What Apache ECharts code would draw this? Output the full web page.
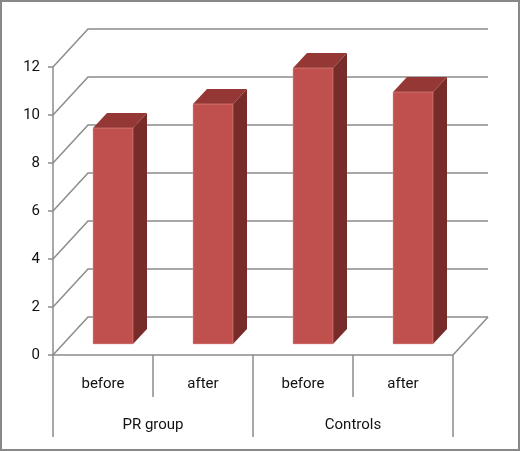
<!DOCTYPE html>
<html>
<head>
<meta charset="utf-8">
<script src="https://cdn.jsdelivr.net/npm/echarts@6/dist/echarts.min.js"></script>
<style>
  html, body { margin: 0; padding: 0; background: #fff; }
  #chart { width: 521px; height: 452px; }
</style>
</head>
<body>
<div id="chart"></div>
<script>
/* ---------- data ---------- */
const SUB_LABELS = ["before", "after", "before", "after"];
const GROUP_LABELS = ["PR group", "Controls"];
const VALUES = [9, 10, 11.5, 10.5];
const Y_TICKS = [0, 2, 4, 6, 8, 10, 12];

/* ---------- look ---------- */
const FONT = "'Roboto', sans-serif";
const GRID_COLOR = "#8c8c8c";
const WALL = { dx: 35, dy: 38 };      // front -> back wall offset
const BAR = { shift: 10, lift: 11, w: 0.4, dx: 14, dy: 15 };
const COL = { front: "#c0504d", top: "#953735", side: "#772c2a" };

const chart = echarts.init(document.getElementById("chart"), null, { renderer: "canvas" });

// back wall + floor grid lines, one element per y tick
function renderWall(params, api) {
  const cs = params.coordSys;
  const y = api.coord([0, api.value(1)])[1];
  const x0 = cs.x, x1 = cs.x + cs.width;
  const children = [{
    type: "polyline",
    shape: { points: [[x0, y], [x0 + WALL.dx, y - WALL.dy], [x1 + WALL.dx, y - WALL.dy]] },
    style: { stroke: GRID_COLOR, lineWidth: 1.5, fill: null },
  }];
  if (api.value(1) === 0) {
    children.push({
      type: "line",
      shape: { x1: x1, y1: y, x2: x1 + WALL.dx, y2: y - WALL.dy },
      style: { stroke: GRID_COLOR, lineWidth: 1.5 },
    });
  }
  return { type: "group", children };
}

// pseudo 3D bars
function renderBar(params, api) {
  const idx = api.value(0);
  const top = api.coord([idx, api.value(1)]);
  const base = api.coord([idx, 0]);
  const band = api.size([1, 0])[0];
  const w = band * BAR.w;
  const xl = top[0] - w / 2 + BAR.shift, xr = xl + w;
  const yt = top[1] - BAR.lift, yb = base[1] - BAR.lift;
  const { dx, dy } = BAR;
  return {
    type: "group",
    children: [
      { type: "polygon", shape: { points: [[xr, yt], [xr + dx, yt - dy], [xr + dx, yb - dy], [xr, yb]] },
        style: { fill: COL.side } },
      { type: "polygon", shape: { points: [[xl, yt], [xl + dx, yt - dy], [xr + dx, yt - dy], [xr, yt]] },
        style: { fill: COL.top } },
      { type: "rect", shape: { x: xl, y: yt, width: w, height: yb - yt },
        style: { fill: COL.front, stroke: "rgba(230,160,160,0.6)", lineWidth: 0.8 } },
    ],
  };
}

chart.setOption({
  animation: false,
  textStyle: { fontFamily: FONT },
  graphic: [{
    type: "rect", shape: { x: 1, y: 1, width: 518, height: 449 },
    style: { fill: null, stroke: "#888", lineWidth: 2 }, z: 100,
  }],
  grid: { left: 53, right: 68, top: 67, bottom: 97 },
  xAxis: [
    {
      type: "category",
      data: SUB_LABELS,
      position: "bottom",
      axisLine: { lineStyle: { color: GRID_COLOR, width: 1.5 } },
      axisTick: { show: true, interval: 0, length: 42, lineStyle: { color: GRID_COLOR, width: 1.5 } },
      axisLabel: { interval: 0, margin: 22, color: "#111", fontSize: 15, fontFamily: FONT },
    },
    {
      type: "category",
      data: GROUP_LABELS,
      position: "bottom",
      offset: 0,
      axisLine: { show: false },
      axisTick: { show: true, interval: 0, length: 82, lineStyle: { color: GRID_COLOR, width: 1.5 } },
      axisLabel: { interval: 0, margin: 63, color: "#111", fontSize: 15, fontFamily: FONT },
    },
  ],
  yAxis: {
    type: "value",
    min: 0, max: 12, interval: 2,
    axisLine: { show: true, lineStyle: { color: GRID_COLOR, width: 1.5 } },
    axisTick: { show: true, length: 5, lineStyle: { color: GRID_COLOR, width: 1.5 } },
    splitLine: { show: false },
    axisLabel: { margin: 13, color: "#111", fontSize: 15, fontFamily: FONT },
  },
  series: [
    {
      type: "custom",
      name: "wall",
      clip: false,
      silent: true,
      z: 1,
      renderItem: renderWall,
      data: Y_TICKS.map((t) => [0, t]),
    },
    {
      type: "custom",
      name: "bars",
      clip: false,
      z: 5,
      renderItem: renderBar,
      data: VALUES.map((v, i) => [i, v]),
    },
  ],
});
</script>
</body>
</html>
